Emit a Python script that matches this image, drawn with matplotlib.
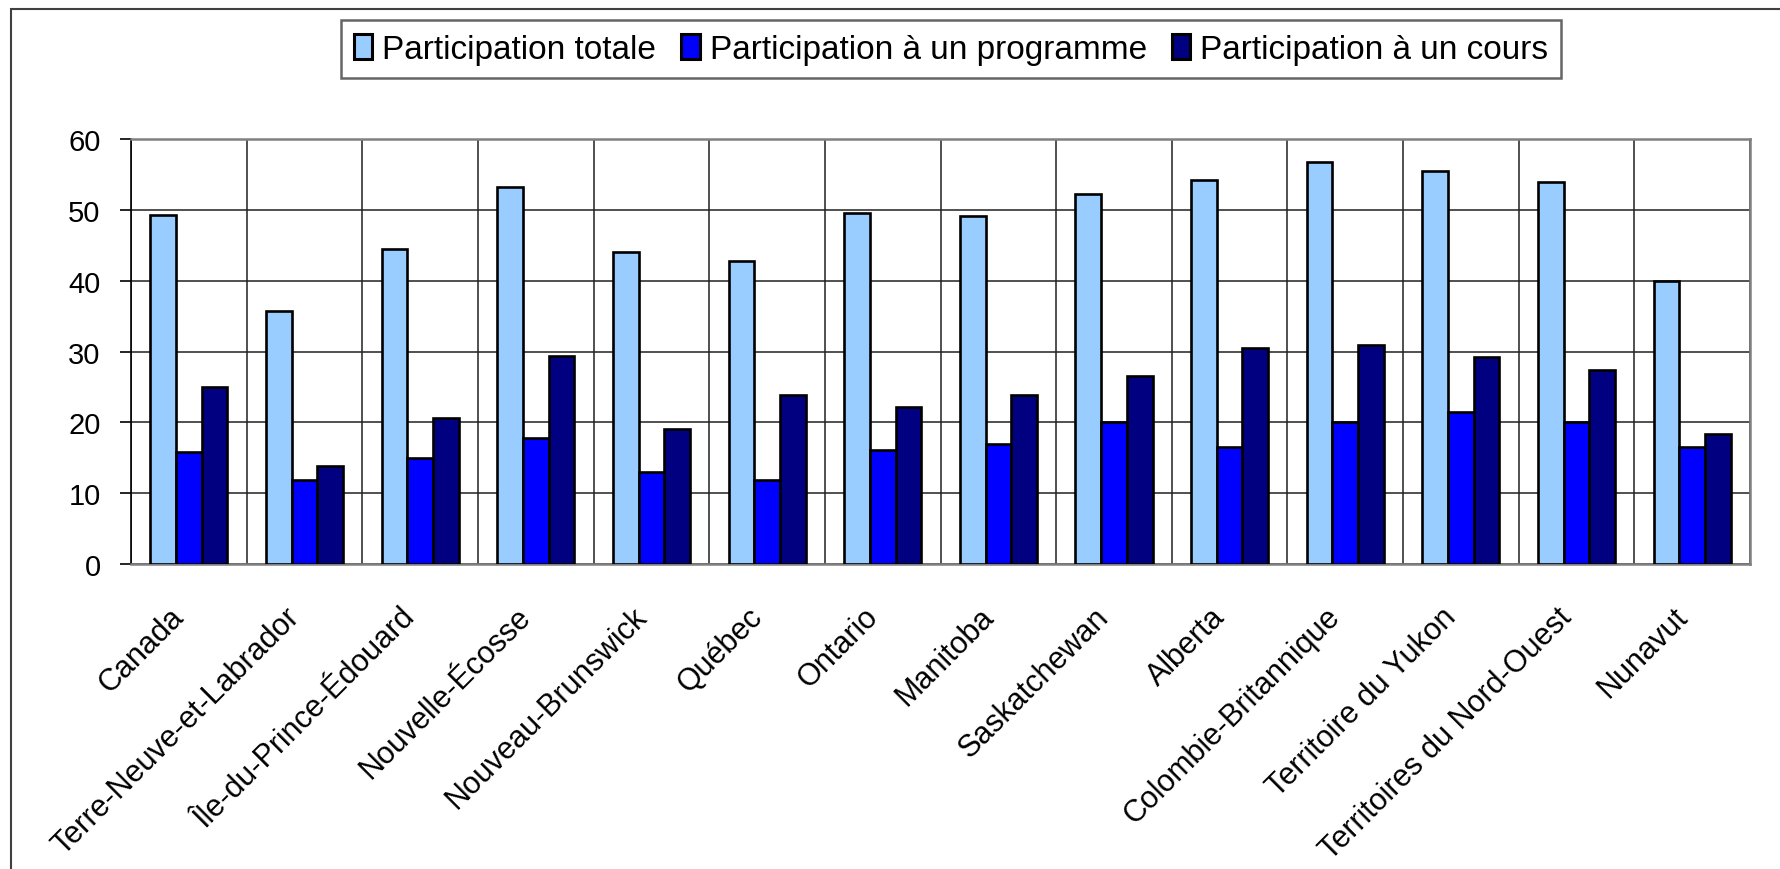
import matplotlib.pyplot as plt
import matplotlib.transforms as mtransforms
import numpy as np
from matplotlib.patches import Rectangle

plt.rcParams['font.family'] = ['Liberation Sans', 'DejaVu Sans']

provinces = ['Canada', 'Terre-Neuve-et-Labrador', 'Île-du-Prince-Édouard',
             'Nouvelle-Écosse', 'Nouveau-Brunswick', 'Québec', 'Ontario',
             'Manitoba', 'Saskatchewan', 'Alberta', 'Colombie-Britannique',
             'Territoire du Yukon', 'Territoires du Nord-Ouest', 'Nunavut']

totale = [49.3, 35.7, 44.5, 53.3, 44.1, 42.8, 49.5, 49.2, 52.3, 54.2, 56.7, 55.5, 53.9, 40.0]
programme = [15.8, 11.9, 15.0, 17.8, 13.0, 11.8, 16.1, 16.9, 20.1, 16.5, 20.1, 21.4, 20.1, 16.5]
cours = [25.0, 13.8, 20.6, 29.3, 19.0, 23.8, 22.2, 23.8, 26.5, 30.5, 30.9, 29.2, 27.4, 18.3]

series = ['Participation totale', 'Participation à un programme', 'Participation à un cours']
couleurs = ['#99CCFF', '#0000FF', '#000080']

fig = plt.figure(figsize=(17.81, 8.70), dpi=100)
ax = fig.add_axes([0.0736, 0.3506, 0.909, 0.4884])

x = np.arange(len(provinces))
w = 0.222
for i, (vals, nom, c) in enumerate(zip([totale, programme, cours], series, couleurs)):
    ax.bar(x + (i - 1) * w, vals, w, color=c, edgecolor='black', linewidth=1.9,
           label=nom, zorder=3)

ax.set_xlim(-0.5, len(provinces) - 0.5)
ax.set_ylim(0, 60)
ax.set_yticks(range(0, 61, 10))
ax.set_xticks(x)
ax.set_xticks(np.arange(-0.5, len(provinces), 1), minor=True)
ax.set_xticklabels(provinces, rotation=45, ha='right', rotation_mode='anchor', fontsize=22)
ax.tick_params(axis='x', which='both', length=0, pad=27)
ax.tick_params(axis='y', labelsize=21, length=8, width=1.2, pad=14)
decal = mtransforms.ScaledTranslation(-0.2, 0, fig.dpi_scale_trans)
for lab in ax.get_xticklabels():
    lab.set_transform(lab.get_transform() + decal)
ax.grid(axis='y', color='#202020', linewidth=1.1, zorder=0)
ax.grid(axis='x', which='minor', color='#202020', linewidth=1.1, zorder=0)
for s in ['top', 'right', 'bottom']:
    ax.spines[s].set_color('#808080')
    ax.spines[s].set_linewidth(1.8)
ax.spines['left'].set_color('black')
ax.spines['left'].set_linewidth(1.2)

leg = fig.legend(loc='center', bbox_to_anchor=(0.534, 0.942), ncol=3, fontsize=24,
                 frameon=True, fancybox=False, edgecolor='#404040',
                 handlelength=0.55, handleheight=0.8, handletextpad=0.3,
                 columnspacing=0.75, borderpad=0.4)
leg.get_frame().set_linewidth(1.8)
for h in leg.legend_handles:
    h.set_linewidth(2.2)

fig.patches.append(Rectangle((0.006, -0.01), 1.2, 0.998, transform=fig.transFigure,
                             fill=False, edgecolor='#404040', linewidth=1.5))

fig.savefig('out.png', dpi=100)
